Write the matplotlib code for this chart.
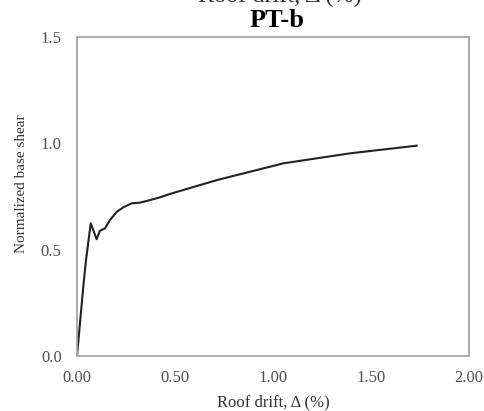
import numpy as np
import matplotlib
matplotlib.use('Agg')
import matplotlib.pyplot as plt

plt.rcParams['font.family'] = ['Liberation Serif', 'DejaVu Serif']

# pushover curve
drift = [0.0, 0.032, 0.046, 0.070, 0.100, 0.117, 0.143, 0.168, 0.203, 0.236,
         0.279, 0.321, 0.372, 0.423, 0.474, 0.713, 1.053, 1.393, 1.733]
shear = [0.0, 0.326, 0.451, 0.624, 0.549, 0.589, 0.600, 0.639, 0.678, 0.699,
         0.718, 0.721, 0.733, 0.746, 0.762, 0.827, 0.906, 0.953, 0.989]
xticks = [0.0, 0.5, 1.0, 1.5, 2.0]
yticks = [0.0, 0.5, 1.0, 1.5]

fig = plt.figure(figsize=(4.85, 4.11), dpi=100)
ax = fig.add_axes([77/485, 1-356/411, 392/485, 319/411])
ax.plot(drift, shear, color='#222222', lw=1.5)

ax.set_xlim(0, 2)
ax.set_ylim(0, 1.5)
ax.set_xticks(xticks)
ax.set_xticklabels(['%.2f' % t for t in xticks])
ax.set_yticks(yticks)
ax.set_yticklabels(['%.1f' % t for t in yticks])
ax.tick_params(length=0, labelsize=12, colors='#505050')
ax.tick_params(axis='y', pad=11)
ax.tick_params(axis='x', pad=10)
for s in ax.spines.values():
    s.set_color('#a6a6a6')
    s.set_linewidth(1.3)

ax.set_xlabel('Roof drift, Δ (%)', fontsize=12, color='#333333', labelpad=6)
ax.set_ylabel('Normalized base shear', fontsize=11, color='#333333')
ax.yaxis.set_label_coords(-0.125, 0.54)
fig.text(277/485, 1-27/411, 'PT-b', fontsize=19, fontweight='bold', ha='center', va='baseline')
# top of the previous panel's x label, cut off by the crop
fig.text(280/485, 1-2.5/411, 'Roof drift, Δ (%)', fontsize=17.5, ha='center', va='baseline', color='#333333')

plt.savefig('out.png', dpi=100)
